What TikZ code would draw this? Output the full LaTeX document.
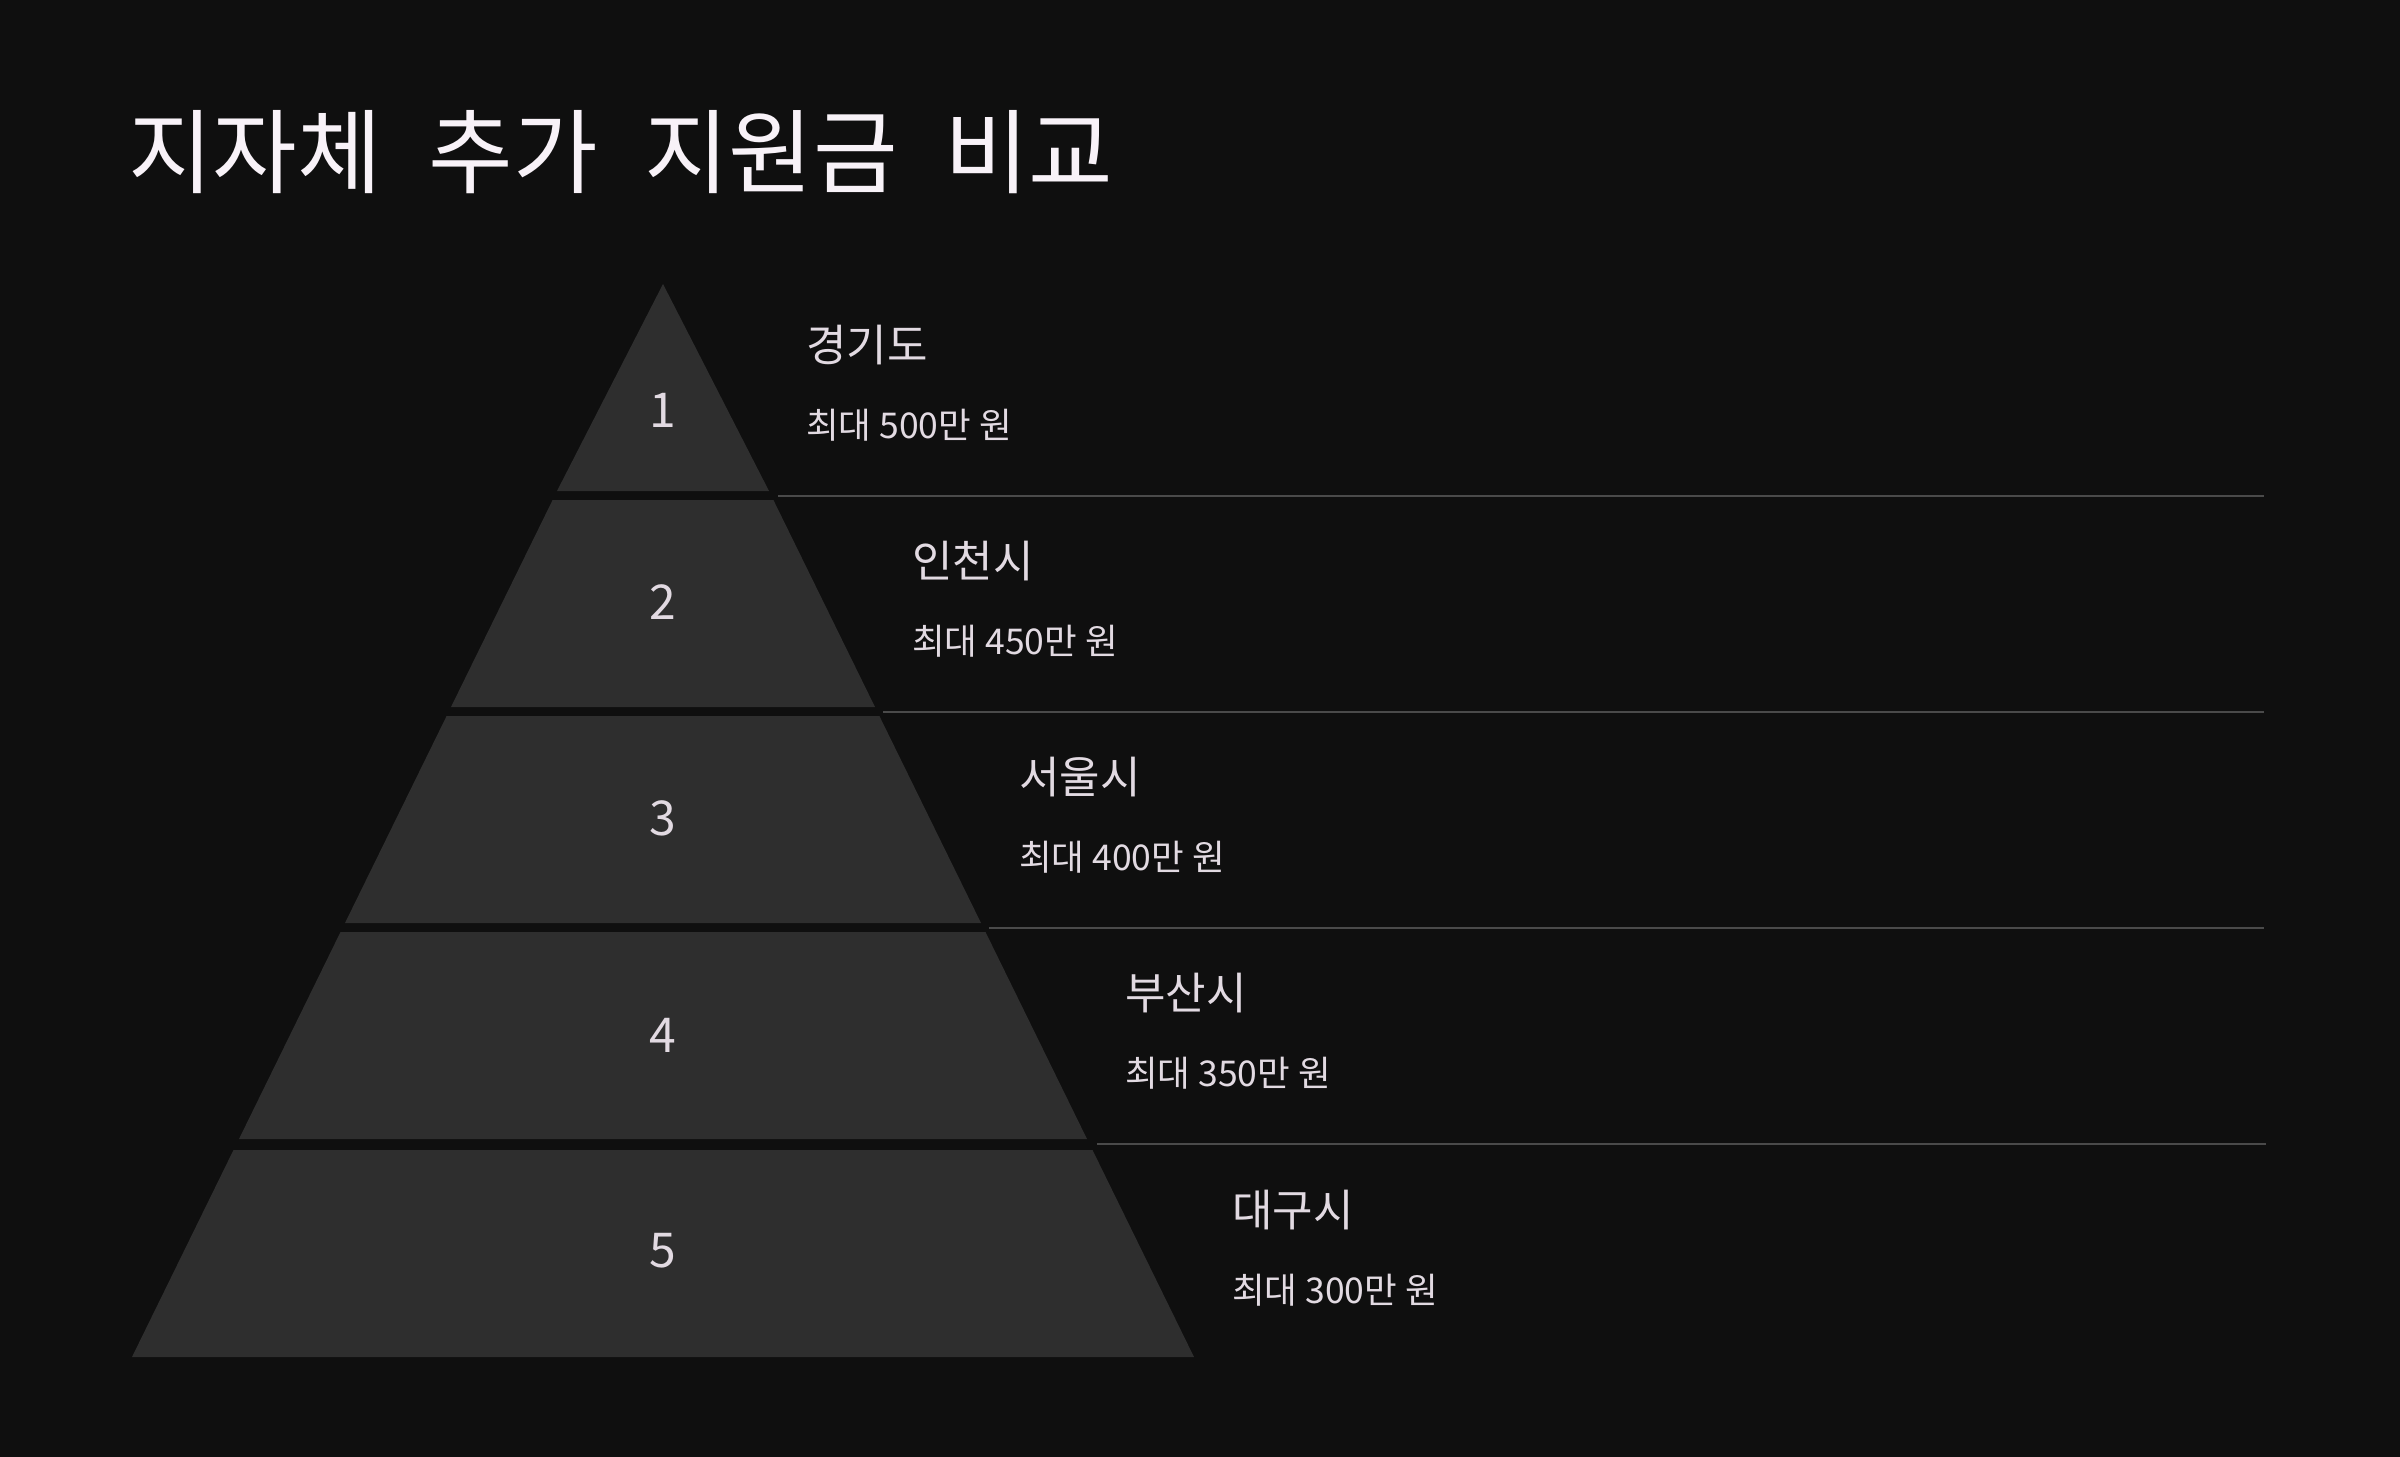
\documentclass[tikz,border=0pt]{standalone}
\usepackage{fontspec}
\setmainfont{Noto Sans CJK KR}
\newfontfamily\krfont{Noto Sans CJK KR}
\definecolor{bgc}{HTML}{0F0F0F}
\definecolor{tierc}{HTML}{2E2E2E}
\definecolor{titlec}{HTML}{F8F2F8}
\definecolor{textc}{HTML}{E2DAE2}
\definecolor{linec}{HTML}{4A4A4A}
\tikzset{
  tier/.style={fill=tierc, draw=none},
  numlabel/.style={text=textc, font=\krfont\fontsize{48}{54}\selectfont, inner sep=0pt},
  headlabel/.style={text=textc, font=\krfont\fontsize{44}{50}\selectfont, anchor=west, inner sep=0pt},
  sublabel/.style={text=textc, font=\krfont\fontsize{35.5}{40}\selectfont, anchor=west, inner sep=0pt},
  sepline/.style={draw=linec, line width=2pt},
  titlelabel/.style={text=titlec, font=\krfont\fontsize{92}{100}\selectfont, anchor=west, inner sep=0pt}
}
\begin{document}
\begin{tikzpicture}[x=1pt,y=-1pt]
\useasboundingbox (0,0) rectangle (2400,1456);
\fill[bgc] (-10,-10) rectangle (2410,1466);
\node[titlelabel] (title) at (128,152) {지자체 \hspace{0.28em}추가 \hspace{0.28em}지원금 \hspace{0.28em}비교};
% tiers
\fill[tier] (663,284) -- (769,491) -- (557,491) -- cycle;
\fill[tier] (552.6,500) -- (773.4,500) -- (875,707) -- (451,707) -- cycle;
\fill[tier] (446.6,716) -- (879.4,716) -- (981,923) -- (345,923) -- cycle;
\fill[tier] (340.5,932) -- (985.5,932) -- (1087,1139) -- (239,1139) -- cycle;
\fill[tier] (233.5,1150) -- (1092.5,1150) -- (1194,1357) -- (132,1357) -- cycle;
% numbers
\node[numlabel] (n1) at (663,410) {1};
\node[numlabel] (n2) at (663,602) {2};
\node[numlabel] (n3) at (663,818) {3};
\node[numlabel] (n4) at (663,1035) {4};
\node[numlabel] (n5) at (663,1251) {5};
% separators
\coordinate (s1a) at (778,496); \coordinate (s1b) at (2264,496);
\coordinate (s2a) at (883,712); \coordinate (s2b) at (2264,712);
\coordinate (s3a) at (989,928); \coordinate (s3b) at (2264,928);
\coordinate (s4a) at (1097,1144); \coordinate (s4b) at (2266,1144);
\draw[sepline] (s1a) -- (s1b);
\draw[sepline] (s2a) -- (s2b);
\draw[sepline] (s3a) -- (s3b);
\draw[sepline] (s4a) -- (s4b);
% labels
\node[headlabel] (h1) at (806,345) {경기도};
\node[sublabel] (d1) at (806,425) {최대 500만 원};
\node[headlabel] (h2) at (912,561) {인천시};
\node[sublabel] (d2) at (912,641) {최대 450만 원};
\node[headlabel] (h3) at (1019,777) {서울시};
\node[sublabel] (d3) at (1019,857) {최대 400만 원};
\node[headlabel] (h4) at (1125,993) {부산시};
\node[sublabel] (d4) at (1125,1073) {최대 350만 원};
\node[headlabel] (h5) at (1232,1210) {대구시};
\node[sublabel] (d5) at (1232,1290) {최대 300만 원};
\end{tikzpicture}
\end{document}
